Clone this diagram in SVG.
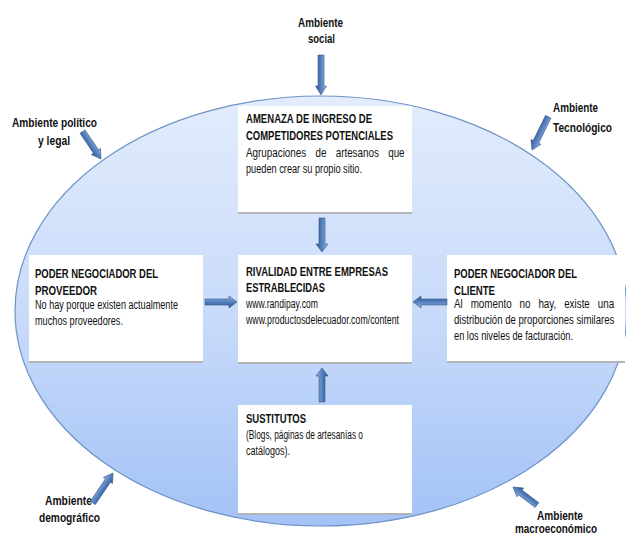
<svg xmlns="http://www.w3.org/2000/svg" width="626" height="535" viewBox="0 0 626 535">
<defs>
<linearGradient id="ellG" x1="0" y1="0" x2="0" y2="1">
<stop offset="0" stop-color="#e2ecfc"/>
<stop offset="0.5" stop-color="#c9dbfa"/>
<stop offset="1" stop-color="#a3c2f6"/>
</linearGradient>
<linearGradient id="arrG" x1="0" y1="0" x2="0" y2="1">
<stop offset="0" stop-color="#9ab8e2"/>
<stop offset="0.45" stop-color="#5a86c2"/>
<stop offset="1" stop-color="#2c5490"/>
</linearGradient>
<linearGradient id="shG" x1="0" y1="0" x2="0" y2="1">
<stop offset="0" stop-color="#7d7d7d"/>
<stop offset="1" stop-color="#b5b5b5"/>
</linearGradient>
</defs>
<style>
text{font-family:"Liberation Sans",Arial,sans-serif;font-size:12px;fill:#111}
.b{font-weight:bold}
.box{fill:#ffffff}
.sh{fill:url(#shG)}
.arr{fill:url(#arrG);stroke:#35598c;stroke-width:0.6}
</style>
<rect width="626" height="535" fill="#ffffff"/>
<ellipse id="env" cx="321" cy="311" rx="306" ry="215" fill="url(#ellG)" stroke="#6e93c6" stroke-width="1.2"/>

<g id="n-amenaza">
<rect class="sh" x="238" y="109" width="174" height="105"/>
<rect class="box" x="238" y="106" width="174" height="106"/>
<text class="b" x="246" y="123" textLength="126" lengthAdjust="spacingAndGlyphs">AMENAZA DE INGRESO DE</text>
<text class="b" x="246" y="140" textLength="147" lengthAdjust="spacingAndGlyphs">COMPETIDORES POTENCIALES</text>
<text transform="translate(246 157) scale(0.82 1)" x="0" y="0" word-spacing="8">Agrupaciones de artesanos que</text>
<text x="246" y="173" textLength="116" lengthAdjust="spacingAndGlyphs">pueden crear su propio sitio.</text>
</g>

<g id="n-rivalidad">
<rect class="sh" x="238" y="258" width="174" height="106"/>
<rect class="box" x="238" y="255" width="174" height="107"/>
<text class="b" x="246" y="276" textLength="142" lengthAdjust="spacingAndGlyphs">RIVALIDAD ENTRE EMPRESAS</text>
<text class="b" x="246" y="292" textLength="79" lengthAdjust="spacingAndGlyphs">ESTRABLECIDAS</text>
<text x="246" y="308" textLength="72" lengthAdjust="spacingAndGlyphs">www.randipay.com</text>
<text x="246" y="324" textLength="153" lengthAdjust="spacingAndGlyphs">www.productosdelecuador.com/content</text>
</g>

<g id="n-proveedor">
<rect class="sh" x="29" y="258" width="174" height="105"/>
<rect class="box" x="29" y="255" width="174" height="106"/>
<text class="b" x="35" y="278" textLength="123" lengthAdjust="spacingAndGlyphs">PODER NEGOCIADOR DEL</text>
<text class="b" x="35" y="295" textLength="62" lengthAdjust="spacingAndGlyphs">PROVEEDOR</text>
<text x="35" y="309" textLength="143" lengthAdjust="spacingAndGlyphs">No hay porque existen actualmente</text>
<text x="35" y="325" textLength="88" lengthAdjust="spacingAndGlyphs">muchos proveedores.</text>
</g>

<g id="n-cliente">
<rect class="sh" x="447" y="258" width="178" height="105"/>
<rect class="box" x="447" y="255" width="178" height="106"/>
<text class="b" x="454" y="278" textLength="123" lengthAdjust="spacingAndGlyphs">PODER NEGOCIADOR DEL</text>
<text class="b" x="454" y="295" textLength="41" lengthAdjust="spacingAndGlyphs">CLIENTE</text>
<text transform="translate(454 308) scale(0.82 1)" x="0" y="0" word-spacing="6.3">Al momento no hay, existe una</text>
<text transform="translate(454 324) scale(0.82 1)" x="0" y="0" textLength="195.5" lengthAdjust="spacingAndGlyphs">distribución de proporciones similares</text>
<text x="454" y="340" textLength="119" lengthAdjust="spacingAndGlyphs">en los niveles de facturación.</text>
</g>

<g id="n-sustitutos">
<rect class="sh" x="238" y="408" width="174" height="107"/>
<rect class="box" x="238" y="405" width="174" height="108"/>
<text class="b" x="246" y="423" textLength="60" lengthAdjust="spacingAndGlyphs">SUSTITUTOS</text>
<text x="246" y="439" textLength="117" lengthAdjust="spacingAndGlyphs">(Blogs, páginas de artesanías o</text>
<text x="246" y="455" textLength="44" lengthAdjust="spacingAndGlyphs">catálogos).</text>
</g>

<g id="n-social">
<text class="b" x="298" y="27" textLength="45" lengthAdjust="spacingAndGlyphs">Ambiente</text>
<text class="b" x="308" y="43" textLength="27" lengthAdjust="spacingAndGlyphs">social</text>
</g>
<g id="n-politico">
<text class="b" x="12" y="127" textLength="85" lengthAdjust="spacingAndGlyphs">Ambiente político</text>
<text class="b" x="38" y="145" textLength="32" lengthAdjust="spacingAndGlyphs">y legal</text>
</g>
<g id="n-tecnologico">
<text class="b" x="553" y="112" textLength="45" lengthAdjust="spacingAndGlyphs">Ambiente</text>
<text class="b" x="553" y="132" textLength="59" lengthAdjust="spacingAndGlyphs">Tecnológico</text>
</g>
<g id="n-demografico">
<text class="b" x="45" y="505" textLength="47" lengthAdjust="spacingAndGlyphs">Ambiente</text>
<text class="b" x="39" y="522" textLength="61" lengthAdjust="spacingAndGlyphs">demográfico</text>
</g>
<g id="n-macro">
<text class="b" x="537" y="520" textLength="46" lengthAdjust="spacingAndGlyphs">Ambiente</text>
<text class="b" x="515" y="533" textLength="82" lengthAdjust="spacingAndGlyphs">macroeconómico</text>
</g>

<g id="connectors">
<polygon class="arr" transform="translate(321,95) rotate(90)" points="0,0 -9,-5.5 -9,-3 -40,-3 -40,3 -9,3 -9,5.5"/>
<polygon class="arr" transform="translate(101,159) rotate(56)" points="0,0 -9,-5.5 -9,-3 -33,-3 -33,3 -9,3 -9,5.5"/>
<polygon class="arr" transform="translate(532,150) rotate(116)" points="0,0 -9,-5.5 -9,-3 -37,-3 -37,3 -9,3 -9,5.5"/>
<polygon class="arr" transform="translate(113,473) rotate(-56)" points="0,0 -9,-5.5 -9,-3 -36,-3 -36,3 -9,3 -9,5.5"/>
<polygon class="arr" transform="translate(513,487) rotate(-143)" points="0,0 -9,-5.5 -9,-3 -30,-3 -30,3 -9,3 -9,5.5"/>
<polygon class="arr" transform="translate(322,252) rotate(90)" points="0,0 -8,-6 -8,-3 -34,-3 -34,3 -8,3 -8,6"/>
<polygon class="arr" transform="translate(322,368) rotate(-90)" points="0,0 -8,-6 -8,-3 -34,-3 -34,3 -8,3 -8,6"/>
<polygon class="arr" transform="translate(237,302) rotate(0)" points="0,0 -8,-6 -8,-3 -32,-3 -32,3 -8,3 -8,6"/>
<polygon class="arr" transform="translate(413,302) rotate(180)" points="0,0 -8,-6 -8,-3 -34,-3 -34,3 -8,3 -8,6"/>
</g>
</svg>
